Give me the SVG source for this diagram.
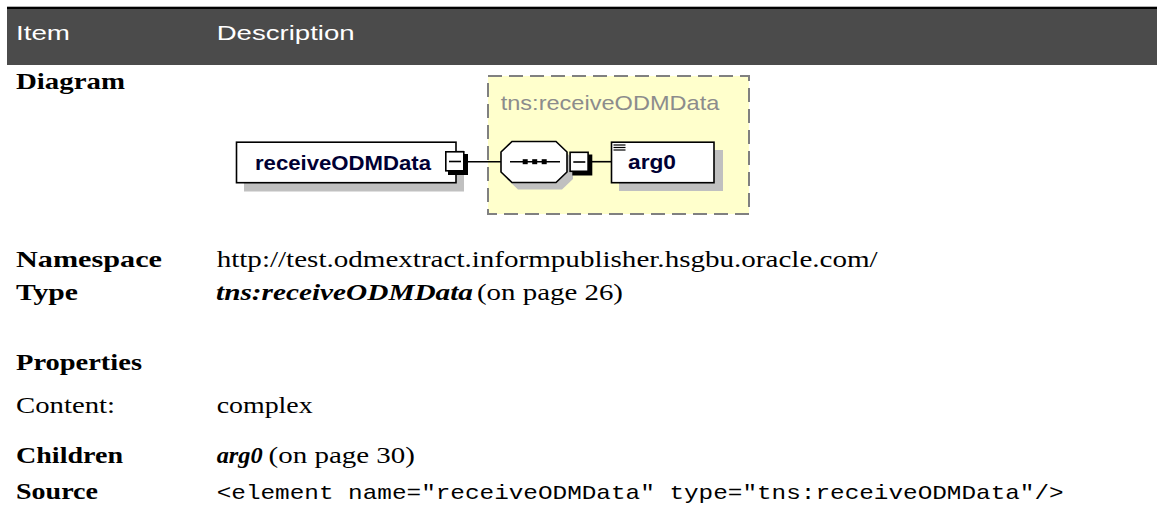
<svg xmlns="http://www.w3.org/2000/svg" width="1161" height="525" viewBox="0 0 1161 525">
<style>
.hd{font-family:"Liberation Sans",Arial,sans-serif;font-size:21px;fill:#ffffff}
.lb{font-family:"Liberation Serif","Times New Roman",serif;font-size:22.5px;font-weight:bold;fill:#000}
.tx{font-family:"Liberation Serif","Times New Roman",serif;font-size:22.5px;fill:#000}
.bi{font-family:"Liberation Serif","Times New Roman",serif;font-size:22.5px;font-weight:bold;font-style:italic;fill:#000}
.mono{font-family:"Liberation Mono","Courier New",monospace;font-size:21px;fill:#000}
.nm{font-family:"Liberation Sans",Arial,sans-serif;font-size:21px;font-weight:bold;fill:#000033}
.box{fill:#fff;stroke:#000;stroke-width:1.6}
.shd{fill:#c0c0c0}
.ln{stroke:#000;stroke-width:1.6;fill:none}
</style>
<defs>
<g id="minus">
<rect x="3" y="3" width="20" height="21" fill="#000"/>
<rect x="0.8" y="0.8" width="18" height="19" fill="#fff" stroke="#000" stroke-width="1.6"/>
<line x1="4" y1="10.5" x2="16" y2="10.5" stroke="#000" stroke-width="1.6"/>
</g>
</defs>
<rect width="1161" height="525" fill="#fff"/>
<g id="header">
<rect x="7" y="6.7" width="1150" height="2.6" fill="#000"/>
<rect x="7" y="9" width="1150" height="56" fill="#4b4b4b"/>
<text class="hd" x="16" y="40" textLength="54" lengthAdjust="spacingAndGlyphs">Item</text>
<text class="hd" x="216.7" y="40" textLength="138" lengthAdjust="spacingAndGlyphs">Description</text>
</g>
<g id="labels">
<text class="lb" x="16" y="89" textLength="109" lengthAdjust="spacingAndGlyphs">Diagram</text>
<text class="lb" x="16" y="266.7" textLength="146" lengthAdjust="spacingAndGlyphs">Namespace</text>
<text class="tx" x="216.7" y="266.7" textLength="661" lengthAdjust="spacingAndGlyphs">http://test.odmextract.informpublisher.hsgbu.oracle.com/</text>
<text class="lb" x="16" y="300" textLength="62" lengthAdjust="spacingAndGlyphs">Type</text>
<text class="bi" x="216" y="300" textLength="257" lengthAdjust="spacingAndGlyphs">tns:receiveODMData</text>
<text class="tx" x="477" y="300" textLength="146" lengthAdjust="spacingAndGlyphs">(on page 26)</text>
<text class="lb" x="16" y="370" textLength="126" lengthAdjust="spacingAndGlyphs">Properties</text>
<text class="tx" x="16" y="413" textLength="99" lengthAdjust="spacingAndGlyphs">Content:</text>
<text class="tx" x="216.7" y="413" textLength="96" lengthAdjust="spacingAndGlyphs">complex</text>
<text class="lb" x="16" y="463" textLength="107" lengthAdjust="spacingAndGlyphs">Children</text>
<text class="bi" x="216.7" y="463" textLength="46" lengthAdjust="spacingAndGlyphs">arg0</text>
<text class="tx" x="268.5" y="463" textLength="146.5" lengthAdjust="spacingAndGlyphs">(on page 30)</text>
<text class="lb" x="16" y="499" textLength="82" lengthAdjust="spacingAndGlyphs">Source</text>
<text class="mono" x="216.7" y="499" textLength="847" lengthAdjust="spacingAndGlyphs">&lt;element name="receiveODMData" type="tns:receiveODMData"/&gt;</text>
</g>
<g id="complexType">
<rect x="488" y="76" width="261" height="138" fill="#ffffcc" stroke="#808080" stroke-width="2" stroke-dasharray="14 7"/>
<text x="500.7" y="110" font-family="Liberation Sans, Arial, sans-serif" font-size="21" fill="#8c8c8c" textLength="218.6" lengthAdjust="spacingAndGlyphs">tns:receiveODMData</text>
</g>
<g id="connectors">
<line class="ln" x1="467" y1="161.7" x2="501" y2="161.7"/>
<line class="ln" x1="591" y1="161.7" x2="611" y2="161.7"/>
</g>
<g id="node-receiveODMData">
<rect class="shd" x="244" y="150.5" width="220" height="41"/>
<rect class="box" x="236.5" y="142.2" width="219.5" height="40.5"/>
<text class="nm" x="255" y="170" textLength="176" lengthAdjust="spacingAndGlyphs">receiveODMData</text>
<use href="#minus" x="445" y="151"/>
</g>
<g id="node-sequence">
<polygon class="shd" points="518,148.5 562,148.5 573,159 573,179 562,189.5 518,189.5 507,179 507,159"/>
<polygon class="box" points="512,141.5 556,141.5 567,152 567,172 556,182.5 512,182.5 501,172 501,152"/>
<line class="ln" x1="510" y1="161.7" x2="560" y2="161.7"/>
<rect x="522.7" y="159.2" width="5" height="5" fill="#000"/>
<rect x="532.2" y="159.2" width="5" height="5" fill="#000"/>
<rect x="541.7" y="159.2" width="5" height="5" fill="#000"/>
<use href="#minus" x="569.3" y="151.5"/>
</g>
<g id="node-arg0">
<rect class="shd" x="619" y="150" width="104" height="41"/>
<rect class="box" x="611.5" y="142.2" width="102.5" height="40.5"/>
<line x1="613.5" y1="145" x2="625.5" y2="145" stroke="#000" stroke-width="1.2"/>
<line x1="613.5" y1="147.5" x2="625.5" y2="147.5" stroke="#000" stroke-width="1.2"/>
<line x1="613.5" y1="150" x2="625.5" y2="150" stroke="#000" stroke-width="1.2"/>
<text class="nm" x="628" y="169" textLength="48" lengthAdjust="spacingAndGlyphs">arg0</text>
</g>
</svg>
